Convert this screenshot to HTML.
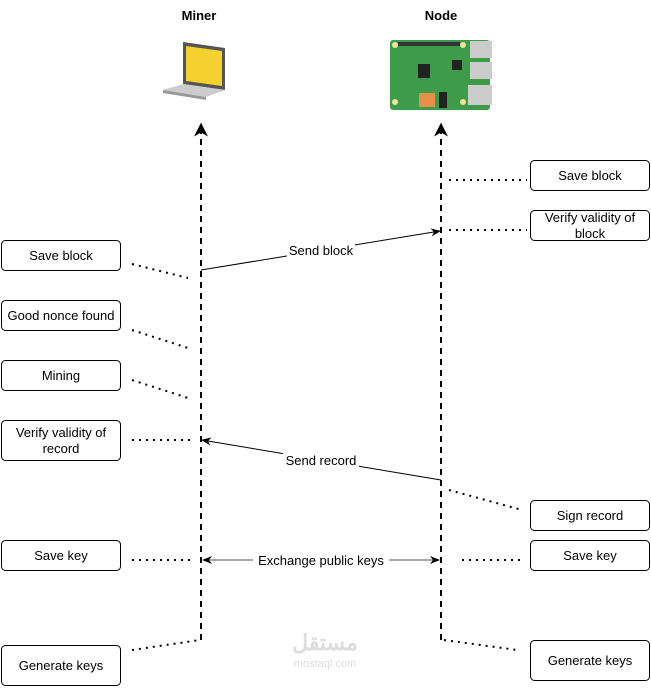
<!DOCTYPE html>
<html><head><style>
body{margin:0;background:#fff;}
svg text{font-family:"Liberation Sans",sans-serif;font-size:13px;fill:#000;}
</style></head><body>
<svg width="651" height="686" viewBox="0 0 651 686" xmlns="http://www.w3.org/2000/svg">
<defs>
<marker id="a" viewBox="0 0 10 10" refX="9" refY="5" markerWidth="7" markerHeight="7" orient="auto-start-reverse"><path d="M0,0 L10,5 L0,10 L3,5z" fill="#000"/></marker>
<marker id="b" viewBox="0 0 10 10" refX="9" refY="5" markerWidth="10" markerHeight="10" markerUnits="userSpaceOnUse" orient="auto-start-reverse"><path d="M0,1 L10,5 L0,9 L3,5z" fill="#000"/></marker>
</defs>
<text x="199" y="20" text-anchor="middle" font-weight="bold">Miner</text>
<text x="441" y="20" text-anchor="middle" font-weight="bold">Node</text>
<!-- laptop -->
<g>
<polygon points="183,42 225,48 225,90 183,84" fill="#555"/>
<polygon points="186,46 222,51 222,86 186,81" fill="#f5d130"/>
<polygon points="163,90 183,84 225,90 206,97" fill="#ccc"/>
<polygon points="163,90 206,97 206,100 163,93" fill="#999"/>
</g>
<!-- board -->
<g>
<rect x="390" y="40" width="100" height="70" rx="3" fill="#3d9c4a"/>
<rect x="470" y="41" width="22" height="17" fill="#ccc"/>
<rect x="470" y="62" width="22" height="17" fill="#ccc"/>
<rect x="468" y="85" width="24" height="20" fill="#ccc"/>
<rect x="398" y="42" width="62" height="4" fill="#333"/>
<rect x="418" y="64" width="12" height="14" fill="#222"/>
<rect x="452" y="60" width="10" height="10" fill="#222"/>
<rect x="419" y="93" width="16" height="14" fill="#e8904a"/>
<rect x="439" y="92" width="8" height="16" fill="#222"/>
<circle cx="395" cy="45" r="3" fill="#f2e29a"/><circle cx="463" cy="45" r="3" fill="#f2e29a"/>
<circle cx="395" cy="102" r="3" fill="#f2e29a"/><circle cx="463" cy="102" r="3" fill="#f2e29a"/>
</g>
<!-- lifelines -->
<g stroke="#000" stroke-width="2" stroke-dasharray="6,5" fill="none">
<line x1="201" y1="640" x2="201" y2="124" marker-end="url(#a)"/>
<line x1="441" y1="640" x2="441" y2="124" marker-end="url(#a)"/>
</g>
<!-- dotted -->
<g stroke="#000" stroke-width="2" stroke-dasharray="2,5" fill="none">
<line x1="132" y1="264" x2="188" y2="278"/>
<line x1="132" y1="330" x2="188" y2="348"/>
<line x1="132" y1="380" x2="188" y2="398"/>
<line x1="132" y1="440" x2="190" y2="440"/>
<line x1="132" y1="560" x2="190" y2="560"/>
<line x1="132" y1="650" x2="200" y2="640"/>
<line x1="449" y1="180" x2="527" y2="180"/>
<line x1="449" y1="230" x2="527" y2="230"/>
<line x1="449" y1="490" x2="522" y2="510"/>
<line x1="462" y1="560" x2="522" y2="560"/>
<line x1="444" y1="640" x2="517" y2="650"/>
</g>
<!-- messages -->
<g stroke="#000" stroke-width="1" fill="none">
<line x1="201" y1="270" x2="440" y2="231" marker-end="url(#b)"/>
<line x1="441" y1="480" x2="202" y2="440" marker-end="url(#b)"/>
<line x1="203" y1="560" x2="439" y2="560" marker-start="url(#b)" marker-end="url(#b)" stroke="#555"/>
</g>
<rect x="287" y="243" width="68" height="15" fill="#fff"/>
<text x="321" y="255" text-anchor="middle">Send block</text>
<rect x="283" y="453" width="76" height="15" fill="#fff"/>
<text x="321" y="465" text-anchor="middle">Send record</text>
<rect x="253" y="553" width="136" height="15" fill="#fff"/>
<text x="321" y="565" text-anchor="middle">Exchange public keys</text>
<!-- boxes -->
<g fill="#fff" stroke="#000" stroke-width="1">
<rect x="1.5" y="240.5" width="119" height="30" rx="4"/>
<rect x="1.5" y="300.5" width="119" height="30" rx="4"/>
<rect x="1.5" y="360.5" width="119" height="30" rx="4"/>
<rect x="1.5" y="420.5" width="119" height="40" rx="4"/>
<rect x="1.5" y="540.5" width="119" height="30" rx="4"/>
<rect x="1.5" y="645.5" width="119" height="40" rx="4"/>
<rect x="530.5" y="160.5" width="119" height="30" rx="4"/>
<rect x="530.5" y="210.5" width="119" height="30" rx="4"/>
<rect x="530.5" y="500.5" width="119" height="30" rx="4"/>
<rect x="530.5" y="540.5" width="119" height="30" rx="4"/>
<rect x="530.5" y="640.5" width="119" height="40" rx="4"/>
</g>
<g text-anchor="middle">
<text x="61" y="260">Save block</text>
<text x="61" y="320">Good nonce found</text>
<text x="61" y="380">Mining</text>
<text x="61" y="437">Verify validity of</text>
<text x="61" y="453">record</text>
<text x="61" y="560">Save key</text>
<text x="61" y="670">Generate keys</text>
<text x="590" y="180">Save block</text>
<text x="590" y="222">Verify validity of</text>
<text x="590" y="238">block</text>
<text x="590" y="520">Sign record</text>
<text x="590" y="560">Save key</text>
<text x="590" y="665">Generate keys</text>
</g>
<text x="325" y="650" text-anchor="middle" style="font-size:22px;font-weight:bold;fill:#ddd" font-family="Noto Sans CJK SC">مستقل</text>
<text x="325" y="667" text-anchor="middle" style="font-size:11px;fill:#ddd">mostaql.com</text>
</svg>
</body></html>
